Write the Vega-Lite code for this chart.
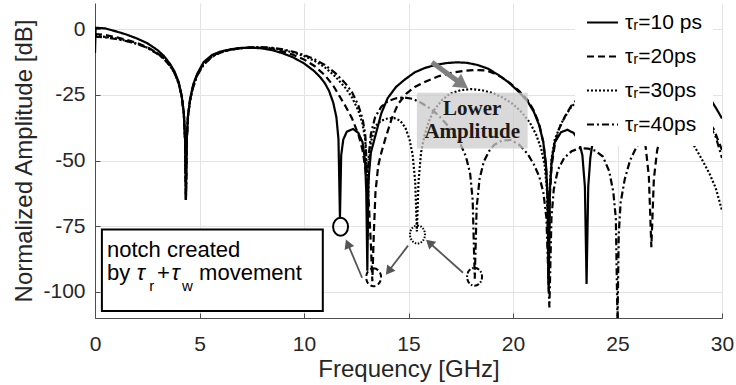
{
  "$schema": "https://vega.github.io/schema/vega-lite/v6.json",
  "width": 627,
  "height": 315,
  "autosize": {"type": "none"},
  "padding": {"left": 95, "top": 3, "right": 14, "bottom": 67},
  "background": "white",
  "config": {
    "view": {"stroke": null},
    "font": "Liberation Sans"
  },
  "layer": [
    {
      "data": {"values": [
        {"s":"τᵣ=10 ps","f":0,"d":-9},{"s":"τᵣ=10 ps","f":0.03,"d":0.6},{"s":"τᵣ=10 ps","f":0.5,"d":0.3},{"s":"τᵣ=10 ps","f":1,"d":-0.8},{"s":"τᵣ=10 ps","f":1.5,"d":-2},{"s":"τᵣ=10 ps","f":2,"d":-3.5},{"s":"τᵣ=10 ps","f":2.5,"d":-5.3},{"s":"τᵣ=10 ps","f":3,"d":-8},{"s":"τᵣ=10 ps","f":3.3,"d":-10.2},{"s":"τᵣ=10 ps","f":3.6,"d":-13.3},{"s":"τᵣ=10 ps","f":3.8,"d":-16},{"s":"τᵣ=10 ps","f":4.0,"d":-20},{"s":"τᵣ=10 ps","f":4.15,"d":-25.5},{"s":"τᵣ=10 ps","f":4.25,"d":-32},{"s":"τᵣ=10 ps","f":4.31,"d":-42},{"s":"τᵣ=10 ps","f":4.35,"d":-65},{"s":"τᵣ=10 ps","f":4.39,"d":-42},{"s":"τᵣ=10 ps","f":4.45,"d":-33},{"s":"τᵣ=10 ps","f":4.55,"d":-26.5},{"s":"τᵣ=10 ps","f":4.7,"d":-21},{"s":"τᵣ=10 ps","f":4.9,"d":-16.8},{"s":"τᵣ=10 ps","f":5.2,"d":-12.5},{"s":"τᵣ=10 ps","f":5.6,"d":-9.8},{"s":"τᵣ=10 ps","f":6.0,"d":-8.5},{"s":"τᵣ=10 ps","f":6.5,"d":-7.6},{"s":"τᵣ=10 ps","f":7.0,"d":-7.1},{"s":"τᵣ=10 ps","f":7.5,"d":-7},{"s":"τᵣ=10 ps","f":8.0,"d":-7.3},{"s":"τᵣ=10 ps","f":8.5,"d":-8},{"s":"τᵣ=10 ps","f":9.0,"d":-9.2},{"s":"τᵣ=10 ps","f":9.5,"d":-10.8},{"s":"τᵣ=10 ps","f":10.0,"d":-13},{"s":"τᵣ=10 ps","f":10.5,"d":-16},{"s":"τᵣ=10 ps","f":10.8,"d":-18.5},{"s":"τᵣ=10 ps","f":11.0,"d":-20.6},{"s":"τᵣ=10 ps","f":11.2,"d":-23.5},{"s":"τᵣ=10 ps","f":11.4,"d":-28},{"s":"τᵣ=10 ps","f":11.55,"d":-33.5},{"s":"τᵣ=10 ps","f":11.65,"d":-42},{"s":"τᵣ=10 ps","f":11.72,"d":-72},{"s":"τᵣ=10 ps","f":11.78,"d":-48},{"s":"τᵣ=10 ps","f":11.88,"d":-42},{"s":"τᵣ=10 ps","f":12.05,"d":-39},{"s":"τᵣ=10 ps","f":12.35,"d":-38},{"s":"τᵣ=10 ps","f":12.6,"d":-39.5},{"s":"τᵣ=10 ps","f":12.8,"d":-43},{"s":"τᵣ=10 ps","f":12.92,"d":-50},{"s":"τᵣ=10 ps","f":12.98,"d":-62},{"s":"τᵣ=10 ps","f":13.03,"d":-92},{"s":"τᵣ=10 ps","f":13.08,"d":-58},{"s":"τᵣ=10 ps","f":13.2,"d":-47},{"s":"τᵣ=10 ps","f":13.4,"d":-41},{"s":"τᵣ=10 ps","f":13.7,"d":-32},{"s":"τᵣ=10 ps","f":14.0,"d":-26.3},{"s":"τᵣ=10 ps","f":14.4,"d":-22},{"s":"τᵣ=10 ps","f":14.8,"d":-19.3},{"s":"τᵣ=10 ps","f":15.3,"d":-16.4},{"s":"τᵣ=10 ps","f":15.8,"d":-14.7},{"s":"τᵣ=10 ps","f":16.3,"d":-13.6},{"s":"τᵣ=10 ps","f":16.8,"d":-12.9},{"s":"τᵣ=10 ps","f":17.3,"d":-12.6},{"s":"τᵣ=10 ps","f":17.8,"d":-12.8},{"s":"τᵣ=10 ps","f":18.3,"d":-13.6},{"s":"τᵣ=10 ps","f":18.8,"d":-15},{"s":"τᵣ=10 ps","f":19.3,"d":-17.4},{"s":"τᵣ=10 ps","f":19.8,"d":-20.3},{"s":"τᵣ=10 ps","f":20.3,"d":-24},{"s":"τᵣ=10 ps","f":20.7,"d":-27.5},{"s":"τᵣ=10 ps","f":21.0,"d":-31.5},{"s":"τᵣ=10 ps","f":21.25,"d":-36.5},{"s":"τᵣ=10 ps","f":21.45,"d":-43},{"s":"τᵣ=10 ps","f":21.58,"d":-52},{"s":"τᵣ=10 ps","f":21.66,"d":-65},{"s":"τᵣ=10 ps","f":21.71,"d":-100},{"s":"τᵣ=10 ps","f":21.76,"d":-62},{"s":"τᵣ=10 ps","f":21.85,"d":-50},{"s":"τᵣ=10 ps","f":22.0,"d":-43},{"s":"τᵣ=10 ps","f":22.3,"d":-39.2},{"s":"τᵣ=10 ps","f":22.6,"d":-38.3},{"s":"τᵣ=10 ps","f":22.9,"d":-39.5},{"s":"τᵣ=10 ps","f":23.15,"d":-42.5},{"s":"τᵣ=10 ps","f":23.32,"d":-48},{"s":"τᵣ=10 ps","f":23.44,"d":-60},{"s":"τᵣ=10 ps","f":23.52,"d":-97},{"s":"τᵣ=10 ps","f":23.6,"d":-60},{"s":"τᵣ=10 ps","f":23.7,"d":-49},{"s":"τᵣ=10 ps","f":23.85,"d":-41},{"s":"τᵣ=10 ps","f":24.1,"d":-33},{"s":"τᵣ=10 ps","f":24.5,"d":-26},{"s":"τᵣ=10 ps","f":25,"d":-20.5},{"s":"τᵣ=10 ps","f":25.5,"d":-17},{"s":"τᵣ=10 ps","f":26,"d":-15},{"s":"τᵣ=10 ps","f":26.5,"d":-14},{"s":"τᵣ=10 ps","f":27,"d":-13.8},{"s":"τᵣ=10 ps","f":27.5,"d":-14.5},{"s":"τᵣ=10 ps","f":28,"d":-16},{"s":"τᵣ=10 ps","f":28.5,"d":-18.5},{"s":"τᵣ=10 ps","f":29,"d":-22},{"s":"τᵣ=10 ps","f":29.5,"d":-27.3},{"s":"τᵣ=10 ps","f":29.75,"d":-30.5},{"s":"τᵣ=10 ps","f":30,"d":-34},

        {"s":"τᵣ=20ps","f":0,"d":-1.8},{"s":"τᵣ=20ps","f":0.5,"d":-2.2},{"s":"τᵣ=20ps","f":1,"d":-3},{"s":"τᵣ=20ps","f":1.5,"d":-4},{"s":"τᵣ=20ps","f":2,"d":-5.2},{"s":"τᵣ=20ps","f":2.5,"d":-6.8},{"s":"τᵣ=20ps","f":3,"d":-9.2},{"s":"τᵣ=20ps","f":3.3,"d":-11.2},{"s":"τᵣ=20ps","f":3.6,"d":-14},{"s":"τᵣ=20ps","f":3.8,"d":-16.5},{"s":"τᵣ=20ps","f":4.0,"d":-20.5},{"s":"τᵣ=20ps","f":4.15,"d":-25.5},{"s":"τᵣ=20ps","f":4.25,"d":-32},{"s":"τᵣ=20ps","f":4.31,"d":-42},{"s":"τᵣ=20ps","f":4.35,"d":-65},{"s":"τᵣ=20ps","f":4.39,"d":-42},{"s":"τᵣ=20ps","f":4.45,"d":-33},{"s":"τᵣ=20ps","f":4.55,"d":-27},{"s":"τᵣ=20ps","f":4.7,"d":-21.5},{"s":"τᵣ=20ps","f":4.9,"d":-17},{"s":"τᵣ=20ps","f":5.2,"d":-13},{"s":"τᵣ=20ps","f":5.6,"d":-10.2},{"s":"τᵣ=20ps","f":6.0,"d":-8.7},{"s":"τᵣ=20ps","f":6.5,"d":-7.7},{"s":"τᵣ=20ps","f":7.0,"d":-7.2},{"s":"τᵣ=20ps","f":7.5,"d":-7},{"s":"τᵣ=20ps","f":8.0,"d":-7.1},{"s":"τᵣ=20ps","f":8.5,"d":-7.6},{"s":"τᵣ=20ps","f":9.0,"d":-8.5},{"s":"τᵣ=20ps","f":9.5,"d":-9.8},{"s":"τᵣ=20ps","f":10.0,"d":-11.5},{"s":"τᵣ=20ps","f":10.5,"d":-14},{"s":"τᵣ=20ps","f":11.0,"d":-17.5},{"s":"τᵣ=20ps","f":11.4,"d":-21.5},{"s":"τᵣ=20ps","f":11.7,"d":-25.5},{"s":"τᵣ=20ps","f":12.0,"d":-29.5},{"s":"τᵣ=20ps","f":12.3,"d":-34},{"s":"τᵣ=20ps","f":12.6,"d":-40},{"s":"τᵣ=20ps","f":12.8,"d":-46},{"s":"τᵣ=20ps","f":12.95,"d":-54},{"s":"τᵣ=20ps","f":13.1,"d":-66},{"s":"τᵣ=20ps","f":13.2,"d":-82},{"s":"τᵣ=20ps","f":13.27,"d":-96},{"s":"τᵣ=20ps","f":13.34,"d":-78},{"s":"τᵣ=20ps","f":13.42,"d":-62},{"s":"τᵣ=20ps","f":13.55,"d":-52},{"s":"τᵣ=20ps","f":13.7,"d":-47},{"s":"τᵣ=20ps","f":13.9,"d":-41.5},{"s":"τᵣ=20ps","f":14.2,"d":-34},{"s":"τᵣ=20ps","f":14.5,"d":-28.5},{"s":"τᵣ=20ps","f":14.9,"d":-24.5},{"s":"τᵣ=20ps","f":15.3,"d":-22},{"s":"τᵣ=20ps","f":15.8,"d":-20},{"s":"τᵣ=20ps","f":16.4,"d":-18},{"s":"τᵣ=20ps","f":17.0,"d":-16.7},{"s":"τᵣ=20ps","f":17.6,"d":-15.9},{"s":"τᵣ=20ps","f":18.2,"d":-15.5},{"s":"τᵣ=20ps","f":18.7,"d":-15.7},{"s":"τᵣ=20ps","f":19.1,"d":-16.8},{"s":"τᵣ=20ps","f":19.5,"d":-18.5},{"s":"τᵣ=20ps","f":19.9,"d":-20.8},{"s":"τᵣ=20ps","f":20.3,"d":-23.5},{"s":"τᵣ=20ps","f":20.7,"d":-27},{"s":"τᵣ=20ps","f":21.0,"d":-31},{"s":"τᵣ=20ps","f":21.25,"d":-36},{"s":"τᵣ=20ps","f":21.45,"d":-43},{"s":"τᵣ=20ps","f":21.58,"d":-52},{"s":"τᵣ=20ps","f":21.66,"d":-64},{"s":"τᵣ=20ps","f":21.7,"d":-98},{"s":"τᵣ=20ps","f":21.76,"d":-64},{"s":"τᵣ=20ps","f":21.85,"d":-52},{"s":"τᵣ=20ps","f":22.0,"d":-44},{"s":"τᵣ=20ps","f":22.2,"d":-38},{"s":"τᵣ=20ps","f":22.5,"d":-33},{"s":"τᵣ=20ps","f":22.8,"d":-29},{"s":"τᵣ=20ps","f":23.2,"d":-25.5},{"s":"τᵣ=20ps","f":23.8,"d":-22.5},{"s":"τᵣ=20ps","f":24.5,"d":-22},{"s":"τᵣ=20ps","f":25.2,"d":-24},{"s":"τᵣ=20ps","f":25.7,"d":-28},{"s":"τᵣ=20ps","f":26.1,"d":-36},{"s":"τᵣ=20ps","f":26.35,"d":-45},{"s":"τᵣ=20ps","f":26.5,"d":-56},{"s":"τᵣ=20ps","f":26.62,"d":-83},{"s":"τᵣ=20ps","f":26.74,"d":-57},{"s":"τᵣ=20ps","f":26.9,"d":-46},{"s":"τᵣ=20ps","f":27.1,"d":-40},{"s":"τᵣ=20ps","f":27.6,"d":-33},{"s":"τᵣ=20ps","f":28.2,"d":-30},{"s":"τᵣ=20ps","f":28.8,"d":-31},{"s":"τᵣ=20ps","f":29.2,"d":-33.5},{"s":"τᵣ=20ps","f":29.6,"d":-38},{"s":"τᵣ=20ps","f":30,"d":-46},

        {"s":"τᵣ=30ps","f":0,"d":-2.5},{"s":"τᵣ=30ps","f":0.5,"d":-2.9},{"s":"τᵣ=30ps","f":1,"d":-3.5},{"s":"τᵣ=30ps","f":1.5,"d":-4.4},{"s":"τᵣ=30ps","f":2,"d":-5.5},{"s":"τᵣ=30ps","f":2.5,"d":-7},{"s":"τᵣ=30ps","f":3,"d":-9.3},{"s":"τᵣ=30ps","f":3.3,"d":-11.2},{"s":"τᵣ=30ps","f":3.6,"d":-14},{"s":"τᵣ=30ps","f":3.8,"d":-16.5},{"s":"τᵣ=30ps","f":4.0,"d":-20.5},{"s":"τᵣ=30ps","f":4.15,"d":-25.5},{"s":"τᵣ=30ps","f":4.25,"d":-32},{"s":"τᵣ=30ps","f":4.31,"d":-42},{"s":"τᵣ=30ps","f":4.35,"d":-65},{"s":"τᵣ=30ps","f":4.39,"d":-42},{"s":"τᵣ=30ps","f":4.45,"d":-33},{"s":"τᵣ=30ps","f":4.55,"d":-27},{"s":"τᵣ=30ps","f":4.7,"d":-21.8},{"s":"τᵣ=30ps","f":4.9,"d":-17.3},{"s":"τᵣ=30ps","f":5.2,"d":-13.3},{"s":"τᵣ=30ps","f":5.6,"d":-10.4},{"s":"τᵣ=30ps","f":6.0,"d":-8.8},{"s":"τᵣ=30ps","f":6.5,"d":-7.8},{"s":"τᵣ=30ps","f":7.0,"d":-7.2},{"s":"τᵣ=30ps","f":7.5,"d":-6.9},{"s":"τᵣ=30ps","f":8.0,"d":-6.9},{"s":"τᵣ=30ps","f":8.5,"d":-7.2},{"s":"τᵣ=30ps","f":9.0,"d":-7.9},{"s":"τᵣ=30ps","f":9.5,"d":-8.9},{"s":"τᵣ=30ps","f":10.0,"d":-10.2},{"s":"τᵣ=30ps","f":10.5,"d":-12},{"s":"τᵣ=30ps","f":11.0,"d":-14.5},{"s":"τᵣ=30ps","f":11.5,"d":-18},{"s":"τᵣ=30ps","f":12.0,"d":-22.5},{"s":"τᵣ=30ps","f":12.3,"d":-26},{"s":"τᵣ=30ps","f":12.6,"d":-31},{"s":"τᵣ=30ps","f":12.8,"d":-36},{"s":"τᵣ=30ps","f":12.93,"d":-42},{"s":"τᵣ=30ps","f":13.0,"d":-55},{"s":"τᵣ=30ps","f":13.04,"d":-80},{"s":"τᵣ=30ps","f":13.1,"d":-52},{"s":"τᵣ=30ps","f":13.2,"d":-43},{"s":"τᵣ=30ps","f":13.4,"d":-37},{"s":"τᵣ=30ps","f":13.7,"d":-34.8},{"s":"τᵣ=30ps","f":14.0,"d":-34},{"s":"τᵣ=30ps","f":14.3,"d":-33.8},{"s":"τᵣ=30ps","f":14.6,"d":-34.8},{"s":"τᵣ=30ps","f":14.85,"d":-37.5},{"s":"τᵣ=30ps","f":15.05,"d":-42},{"s":"τᵣ=30ps","f":15.2,"d":-48},{"s":"τᵣ=30ps","f":15.32,"d":-58},{"s":"τᵣ=30ps","f":15.4,"d":-77},{"s":"τᵣ=30ps","f":15.48,"d":-58},{"s":"τᵣ=30ps","f":15.6,"d":-47},{"s":"τᵣ=30ps","f":15.75,"d":-41},{"s":"τᵣ=30ps","f":15.95,"d":-35.5},{"s":"τᵣ=30ps","f":16.2,"d":-31},{"s":"τᵣ=30ps","f":16.6,"d":-27},{"s":"τᵣ=30ps","f":17.0,"d":-24.5},{"s":"τᵣ=30ps","f":17.5,"d":-23.2},{"s":"τᵣ=30ps","f":18.0,"d":-22.8},{"s":"τᵣ=30ps","f":18.5,"d":-23.2},{"s":"τᵣ=30ps","f":19.0,"d":-24.2},{"s":"τᵣ=30ps","f":19.5,"d":-26},{"s":"τᵣ=30ps","f":20.0,"d":-28.5},{"s":"τᵣ=30ps","f":20.4,"d":-31.5},{"s":"τᵣ=30ps","f":20.8,"d":-35.5},{"s":"τᵣ=30ps","f":21.1,"d":-40},{"s":"τᵣ=30ps","f":21.35,"d":-45.5},{"s":"τᵣ=30ps","f":21.52,"d":-52},{"s":"τᵣ=30ps","f":21.63,"d":-62},{"s":"τᵣ=30ps","f":21.69,"d":-95},{"s":"τᵣ=30ps","f":21.76,"d":-60},{"s":"τᵣ=30ps","f":21.85,"d":-49},{"s":"τᵣ=30ps","f":22.0,"d":-42},{"s":"τᵣ=30ps","f":22.3,"d":-36},{"s":"τᵣ=30ps","f":22.7,"d":-30.5},{"s":"τᵣ=30ps","f":23.2,"d":-26},{"s":"τᵣ=30ps","f":24,"d":-21.5},{"s":"τᵣ=30ps","f":25,"d":-19},{"s":"τᵣ=30ps","f":26,"d":-19},{"s":"τᵣ=30ps","f":26.8,"d":-22},{"s":"τᵣ=30ps","f":27.5,"d":-27},{"s":"τᵣ=30ps","f":28.1,"d":-35},{"s":"τᵣ=30ps","f":28.6,"d":-43.5},{"s":"τᵣ=30ps","f":29.0,"d":-49},{"s":"τᵣ=30ps","f":29.4,"d":-55},{"s":"τᵣ=30ps","f":29.7,"d":-60.5},{"s":"τᵣ=30ps","f":30,"d":-69},

        {"s":"τᵣ=40ps","f":0,"d":-2.8},{"s":"τᵣ=40ps","f":0.5,"d":-3.1},{"s":"τᵣ=40ps","f":1,"d":-3.7},{"s":"τᵣ=40ps","f":1.5,"d":-4.5},{"s":"τᵣ=40ps","f":2,"d":-5.6},{"s":"τᵣ=40ps","f":2.5,"d":-7.1},{"s":"τᵣ=40ps","f":3,"d":-9.4},{"s":"τᵣ=40ps","f":3.3,"d":-11.3},{"s":"τᵣ=40ps","f":3.6,"d":-14},{"s":"τᵣ=40ps","f":3.8,"d":-16.5},{"s":"τᵣ=40ps","f":4.0,"d":-20.5},{"s":"τᵣ=40ps","f":4.15,"d":-25.5},{"s":"τᵣ=40ps","f":4.25,"d":-32},{"s":"τᵣ=40ps","f":4.31,"d":-42},{"s":"τᵣ=40ps","f":4.35,"d":-65},{"s":"τᵣ=40ps","f":4.39,"d":-42},{"s":"τᵣ=40ps","f":4.45,"d":-33},{"s":"τᵣ=40ps","f":4.55,"d":-27},{"s":"τᵣ=40ps","f":4.7,"d":-22},{"s":"τᵣ=40ps","f":4.9,"d":-17.5},{"s":"τᵣ=40ps","f":5.2,"d":-13.5},{"s":"τᵣ=40ps","f":5.6,"d":-10.5},{"s":"τᵣ=40ps","f":6.0,"d":-8.9},{"s":"τᵣ=40ps","f":6.5,"d":-7.8},{"s":"τᵣ=40ps","f":7.0,"d":-7.2},{"s":"τᵣ=40ps","f":7.5,"d":-6.9},{"s":"τᵣ=40ps","f":8.0,"d":-6.8},{"s":"τᵣ=40ps","f":8.5,"d":-7.1},{"s":"τᵣ=40ps","f":9.0,"d":-7.7},{"s":"τᵣ=40ps","f":9.5,"d":-8.6},{"s":"τᵣ=40ps","f":10.0,"d":-9.8},{"s":"τᵣ=40ps","f":10.5,"d":-11.4},{"s":"τᵣ=40ps","f":11.0,"d":-13.6},{"s":"τᵣ=40ps","f":11.5,"d":-16.7},{"s":"τᵣ=40ps","f":12.0,"d":-20.8},{"s":"τᵣ=40ps","f":12.3,"d":-24},{"s":"τᵣ=40ps","f":12.6,"d":-29},{"s":"τᵣ=40ps","f":12.8,"d":-34},{"s":"τᵣ=40ps","f":12.93,"d":-40},{"s":"τᵣ=40ps","f":13.0,"d":-52},{"s":"τᵣ=40ps","f":13.04,"d":-75},{"s":"τᵣ=40ps","f":13.1,"d":-48},{"s":"τᵣ=40ps","f":13.2,"d":-40},{"s":"τᵣ=40ps","f":13.4,"d":-33.5},{"s":"τᵣ=40ps","f":13.7,"d":-29.5},{"s":"τᵣ=40ps","f":14.0,"d":-27.5},{"s":"τᵣ=40ps","f":14.4,"d":-26.3},{"s":"τᵣ=40ps","f":14.8,"d":-26},{"s":"τᵣ=40ps","f":15.2,"d":-26.5},{"s":"τᵣ=40ps","f":15.6,"d":-28},{"s":"τᵣ=40ps","f":16.0,"d":-30},{"s":"τᵣ=40ps","f":16.4,"d":-32.5},{"s":"τᵣ=40ps","f":16.8,"d":-36},{"s":"τᵣ=40ps","f":17.2,"d":-40},{"s":"τᵣ=40ps","f":17.5,"d":-44},{"s":"τᵣ=40ps","f":17.75,"d":-48.5},{"s":"τᵣ=40ps","f":17.95,"d":-55},{"s":"τᵣ=40ps","f":18.07,"d":-65},{"s":"τᵣ=40ps","f":18.17,"d":-95},{"s":"τᵣ=40ps","f":18.26,"d":-68},{"s":"τᵣ=40ps","f":18.4,"d":-57},{"s":"τᵣ=40ps","f":18.6,"d":-50.5},{"s":"τᵣ=40ps","f":18.85,"d":-46.5},{"s":"τᵣ=40ps","f":19.1,"d":-44},{"s":"τᵣ=40ps","f":19.5,"d":-42.3},{"s":"τᵣ=40ps","f":19.9,"d":-42.2},{"s":"τᵣ=40ps","f":20.3,"d":-44},{"s":"τᵣ=40ps","f":20.7,"d":-47.5},{"s":"τᵣ=40ps","f":21.0,"d":-51.5},{"s":"τᵣ=40ps","f":21.25,"d":-56},{"s":"τᵣ=40ps","f":21.45,"d":-62},{"s":"τᵣ=40ps","f":21.6,"d":-72},{"s":"τᵣ=40ps","f":21.74,"d":-106},{"s":"τᵣ=40ps","f":21.84,"d":-72},{"s":"τᵣ=40ps","f":21.95,"d":-61},{"s":"τᵣ=40ps","f":22.15,"d":-53.5},{"s":"τᵣ=40ps","f":22.45,"d":-49},{"s":"τᵣ=40ps","f":22.8,"d":-46.5},{"s":"τᵣ=40ps","f":23.2,"d":-45.3},{"s":"τᵣ=40ps","f":23.6,"d":-45.5},{"s":"τᵣ=40ps","f":23.95,"d":-46.3},{"s":"τᵣ=40ps","f":24.3,"d":-48.5},{"s":"τᵣ=40ps","f":24.6,"d":-54},{"s":"τᵣ=40ps","f":24.8,"d":-62},{"s":"τᵣ=40ps","f":24.92,"d":-72},{"s":"τᵣ=40ps","f":25.0,"d":-112},{"s":"τᵣ=40ps","f":25.06,"d":-78},{"s":"τᵣ=40ps","f":25.15,"d":-66},{"s":"τᵣ=40ps","f":25.35,"d":-57},{"s":"τᵣ=40ps","f":25.6,"d":-50},{"s":"τᵣ=40ps","f":25.9,"d":-45},{"s":"τᵣ=40ps","f":26.3,"d":-40},{"s":"τᵣ=40ps","f":27,"d":-34},{"s":"τᵣ=40ps","f":27.8,"d":-31},{"s":"τᵣ=40ps","f":28.5,"d":-31},{"s":"τᵣ=40ps","f":29,"d":-33},{"s":"τᵣ=40ps","f":29.4,"d":-36.5},{"s":"τᵣ=40ps","f":29.7,"d":-41},{"s":"τᵣ=40ps","f":30,"d":-49}
      ]},
      "mark": {"type": "line", "stroke": "black", "strokeWidth": 2.2, "clip": true},
      "encoding": {
        "x": {
          "field": "f", "type": "quantitative",
          "scale": {"domain": [0, 30], "nice": false, "zero": false},
          "axis": {
            "title": "Frequency [GHz]", "values": [0, 5, 10, 15, 20, 25, 30],
            "grid": true, "gridColor": "#e3e3e3", "gridWidth": 1,
            "domainColor": "#4d4d4d", "domainWidth": 1,
            "tickColor": "#4d4d4d", "tickSize": -5,
            "labelPadding": 20, "labelFontSize": 21, "labelFont": "Liberation Sans",
            "labelColor": "#262626", "labelFlush": false, "labelOverlap": false,
            "titleFontSize": 24, "titleFont": "Liberation Sans", "titleFontWeight": "normal",
            "titleColor": "#262626", "titlePadding": 3
          }
        },
        "y": {
          "field": "d", "type": "quantitative",
          "scale": {"domain": [-110, 10], "nice": false, "zero": false},
          "axis": {
            "title": "Normalized Amplitude [dB]", "values": [-100, -75, -50, -25, 0],
            "labelExpr": "datum.value + ''",
            "grid": true, "gridColor": "#e3e3e3", "gridWidth": 1,
            "domainColor": "#4d4d4d", "domainWidth": 1,
            "tickColor": "#4d4d4d", "tickSize": -5,
            "labelPadding": 15, "labelFontSize": 21, "labelFont": "Liberation Sans",
            "labelColor": "#262626", "labelFlush": false, "labelOverlap": false,
            "titleFontSize": 24, "titleFont": "Liberation Sans", "titleFontWeight": "normal",
            "titleColor": "#262626", "titlePadding": 6
          }
        },
        "strokeDash": {
          "field": "s", "type": "nominal",
          "scale": {
            "domain": ["τᵣ=10 ps", "τᵣ=20ps", "τᵣ=30ps", "τᵣ=40ps"],
            "range": [[1, 0], [7, 4], [2, 2], [7, 3, 2, 3]]
          },
          "legend": {
            "title": null, "orient": "none", "direction": "vertical",
            "legendX": 480, "legendY": -8,
            "fillColor": "white", "padding": 11,
            "symbolType": "stroke", "symbolSize": 961, "symbolStrokeWidth": 2,
            "symbolStrokeColor": "black",
            "labelFontSize": 21, "labelFont": "Liberation Sans", "labelColor": "black",
            "rowPadding": 7, "labelOffset": 6
          }
        }
      }
    },
    {
      "data": {"values": [{"f1": 15.4, "f2": 20.7, "d1": -24.2, "d2": -45.4}]},
      "mark": {"type": "rect", "fill": "#cccccc", "opacity": 0.75},
      "encoding": {
        "x": {"field": "f1", "type": "quantitative"},
        "x2": {"field": "f2"},
        "y": {"field": "d1", "type": "quantitative"},
        "y2": {"field": "d2"}
      }
    },
    {
      "data": {"values": [{"f": 18.05, "d": -32.8, "t": "Lower"}, {"f": 18.05, "d": -41.6, "t": "Amplitude"}]},
      "mark": {"type": "text", "font": "Liberation Serif", "fontWeight": "bold", "fontSize": 21, "color": "#1a1a1a", "align": "center", "baseline": "alphabetic"},
      "encoding": {
        "x": {"field": "f", "type": "quantitative"},
        "y": {"field": "d", "type": "quantitative"},
        "text": {"field": "t"}
      }
    },
    {
      "data": {"values": [{"f": 16.12, "d": -12.6, "f2": 17.37, "d2": -19.85}]},
      "mark": {"type": "rule", "color": "#808080", "strokeWidth": 5},
      "encoding": {
        "x": {"field": "f", "type": "quantitative"},
        "y": {"field": "d", "type": "quantitative"},
        "x2": {"field": "f2"},
        "y2": {"field": "d2"}
      }
    },
    {
      "data": {"values": [{"f": 17.57, "d": -20.95}]},
      "mark": {"type": "point", "shape": "triangle-up", "filled": true, "color": "#808080", "opacity": 1, "size": 260, "angle": 125},
      "encoding": {
        "x": {"field": "f", "type": "quantitative"},
        "y": {"field": "d", "type": "quantitative"}
      }
    },
    {
      "data": {"values": [
        {"f": 12.78, "d": -94.66, "f2": 12.16, "d2": -82.98},
        {"f": 14.98, "d": -82.44, "f2": 14.15, "d2": -91.07},
        {"f": 17.61, "d": -92.75, "f2": 16.12, "d2": -82.18}
      ]},
      "mark": {"type": "rule", "color": "#555555", "strokeWidth": 1.8},
      "encoding": {
        "x": {"field": "f", "type": "quantitative"},
        "y": {"field": "d", "type": "quantitative"},
        "x2": {"field": "f2"},
        "y2": {"field": "d2"}
      }
    },
    {
      "data": {"values": [{"f": 12.09, "d": -81.72, "a": -22.8}, {"f": 14.05, "d": -92.14, "a": -142.9}, {"f": 16.0, "d": -81.3, "a": -48.3}]},
      "mark": {"type": "point", "shape": "triangle-up", "filled": true, "color": "#555555", "opacity": 1, "size": 108},
      "encoding": {
        "x": {"field": "f", "type": "quantitative"},
        "y": {"field": "d", "type": "quantitative"},
        "angle": {"field": "a", "type": "quantitative", "scale": null}
      }
    },
    {
      "data": {"values": [{"f": 11.75, "d": -75.2}]},
      "mark": {"type": "point", "shape": "M0,-1A0.83,1,0,1,1,0,1A0.83,1,0,1,1,0,-1Z", "size": 324, "filled": false, "stroke": "black", "strokeWidth": 2, "opacity": 1},
      "encoding": {"x": {"field": "f", "type": "quantitative"}, "y": {"field": "d", "type": "quantitative"}}
    },
    {
      "data": {"values": [{"f": 13.33, "d": -94.5}]},
      "mark": {"type": "point", "shape": "M0,-1A0.83,1,0,1,1,0,1A0.83,1,0,1,1,0,-1Z", "size": 324, "filled": false, "stroke": "black", "strokeWidth": 2, "strokeDash": [5, 3], "opacity": 1},
      "encoding": {"x": {"field": "f", "type": "quantitative"}, "y": {"field": "d", "type": "quantitative"}}
    },
    {
      "data": {"values": [{"f": 15.43, "d": -78.2}]},
      "mark": {"type": "point", "shape": "M0,-1A0.83,1,0,1,1,0,1A0.83,1,0,1,1,0,-1Z", "size": 324, "filled": false, "stroke": "black", "strokeWidth": 2, "strokeDash": [1.5, 1.5], "opacity": 1},
      "encoding": {"x": {"field": "f", "type": "quantitative"}, "y": {"field": "d", "type": "quantitative"}}
    },
    {
      "data": {"values": [{"f": 18.16, "d": -94.3}]},
      "mark": {"type": "point", "shape": "M0,-1A0.83,1,0,1,1,0,1A0.83,1,0,1,1,0,-1Z", "size": 324, "filled": false, "stroke": "black", "strokeWidth": 2, "strokeDash": [5, 2, 1.5, 2], "opacity": 1},
      "encoding": {"x": {"field": "f", "type": "quantitative"}, "y": {"field": "d", "type": "quantitative"}}
    },
    {
      "data": {"values": [{"f1": 0.33, "f2": 10.9, "d1": -76.3, "d2": -107.3}]},
      "mark": {"type": "rect", "fill": "white", "stroke": "black", "strokeWidth": 2},
      "encoding": {
        "x": {"field": "f1", "type": "quantitative"},
        "x2": {"field": "f2"},
        "y": {"field": "d1", "type": "quantitative"},
        "y2": {"field": "d2"}
      }
    },
    {
      "data": {"values": [
        {"f": 0.574, "d": -86.9, "t": "notch created"},
        {"f": 0.574, "d": -95.6, "t": "by"},
        {"f": 2.97, "d": -95.6, "t": "+"},
        {"f": 4.98, "d": -95.6, "t": "movement"}
      ]},
      "mark": {"type": "text", "font": "Liberation Sans", "fontSize": 22, "color": "black", "align": "left", "baseline": "alphabetic"},
      "encoding": {
        "x": {"field": "f", "type": "quantitative"},
        "y": {"field": "d", "type": "quantitative"},
        "text": {"field": "t"}
      }
    },
    {
      "data": {"values": [{"f": 2.0, "d": -95.6, "t": "τ"}, {"f": 3.66, "d": -95.6, "t": "τ"}]},
      "mark": {"type": "text", "font": "Liberation Sans", "fontStyle": "italic", "fontSize": 22, "color": "black", "align": "left", "baseline": "alphabetic"},
      "encoding": {
        "x": {"field": "f", "type": "quantitative"},
        "y": {"field": "d", "type": "quantitative"},
        "text": {"field": "t"}
      }
    },
    {
      "data": {"values": [{"f": 2.6, "d": -99.8, "t": "r"}, {"f": 4.16, "d": -99.8, "t": "w"}]},
      "mark": {"type": "text", "font": "Liberation Sans", "fontSize": 15, "color": "black", "align": "left", "baseline": "alphabetic"},
      "encoding": {
        "x": {"field": "f", "type": "quantitative"},
        "y": {"field": "d", "type": "quantitative"},
        "text": {"field": "t"}
      }
    }
  ]
}
